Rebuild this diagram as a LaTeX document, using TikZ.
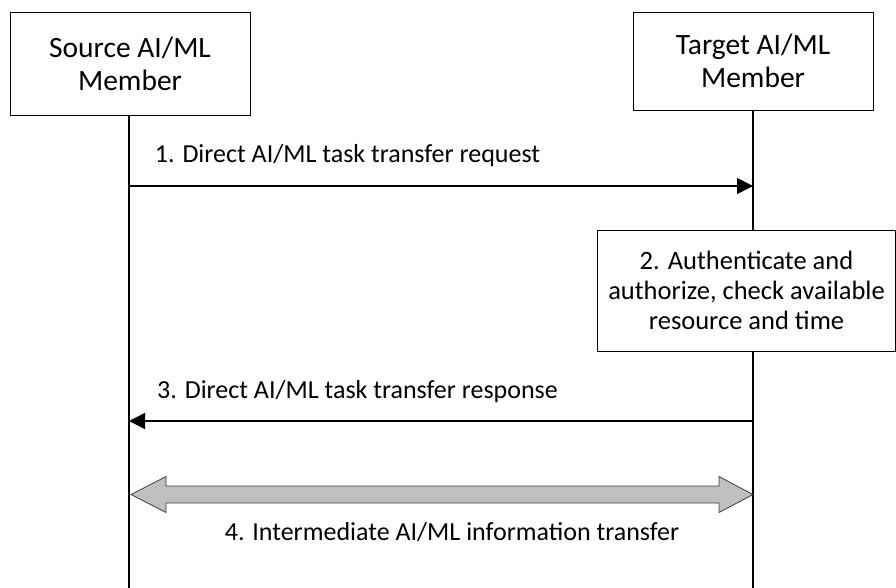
\documentclass[tikz,border=0pt]{standalone}
\usepackage{fontspec}
\setmainfont{Carlito}
\usetikzlibrary{arrows.meta,calc}
\begin{document}
\begin{tikzpicture}[x=1pt,y=-1pt,
  entity/.style={draw,line width=0.8pt,minimum width=240pt,align=center,font=\fontsize{29.5}{33}\selectfont,inner sep=0pt},
  lifeline/.style={line width=2pt},
  msg/.style={line width=1.6pt,-{Triangle[length=16pt,width=16pt]}},
  lbl/.style={font=\fontsize{26}{30}\selectfont,inner sep=0pt}]
\useasboundingbox (0,0) rectangle (896,588);
\node[entity,minimum height=103pt] (src) at (130,63.5) {Source AI/ML\\Member};
\node[entity,minimum height=98pt] (tgt) at (753,61) {Target AI/ML\\Member};
\coordinate (srcend) at (129,588);
\coordinate (tgtend) at (753,588);
\draw[lifeline] (src.south -| srcend) -- (srcend);
\draw[lifeline] (tgt.south -| tgtend) -- (tgtend);
\node[draw,fill=white,line width=0.8pt,minimum width=298pt,minimum height=121pt,align=center,font=\fontsize{26.5}{30}\selectfont,inner sep=0pt] (auth) at (746.5,290.5) {2. Authenticate and\\authorize, check available\\resource and time};
\coordinate (m1s) at (129,186);
\coordinate (m1e) at (753,186);
\draw[msg] (m1s) -- (m1e);
\node[lbl] (l1) at (347.5,156) {1. Direct AI/ML task transfer request};
\coordinate (m3s) at (753,421);
\coordinate (m3e) at (129,421);
\draw[msg] (m3s) -- (m3e);
\node[lbl] (l3) at (357.5,392) {3. Direct AI/ML task transfer response};
\coordinate (m4a) at (131,494.5);
\coordinate (m4b) at (753,494.5);
\path[draw=black!75,line width=0.8pt,fill=black!25]
  (m4a) -- ++(35,-18) -- ++(0,9.5) -- ($(m4b)+(-34,-8.5)$) -- ++(0,-9.5) -- (m4b)
  -- ++(-34,18) -- ++(0,-9.5) -- ($(m4a)+(35,8.5)$) -- ++(0,9.5) -- cycle;
\node[lbl] (l4) at (452,532) {4. Intermediate AI/ML information transfer};
\end{tikzpicture}
\end{document}
